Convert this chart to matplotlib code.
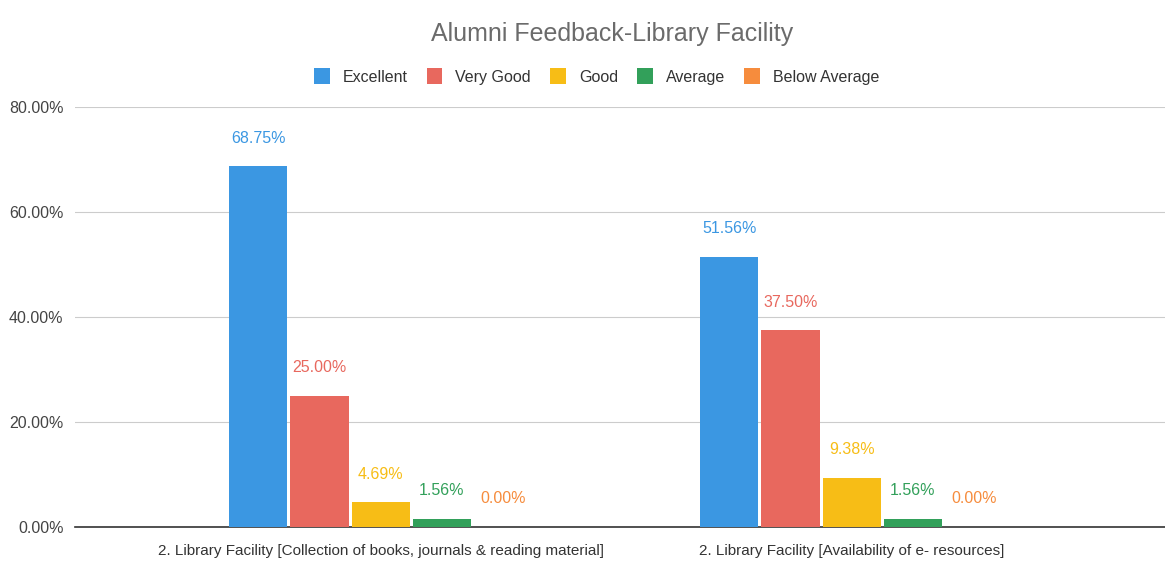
import numpy as np
import matplotlib
matplotlib.use("Agg")
import matplotlib.pyplot as plt
from matplotlib.ticker import PercentFormatter

plt.rcParams['font.family'] = ['Liberation Sans', 'DejaVu Sans']

categories = ["2. Library Facility [Collection of books, journals & reading material]",
              "2. Library Facility [Availability of e- resources]"]
series = ["Excellent", "Very Good", "Good", "Average", "Below Average"]
excellent = [68.75, 51.56]
very_good = [25.00, 37.50]
good = [4.69, 9.38]
average = [1.56, 1.56]
below_average = [0.00, 0.00]
values = [excellent, very_good, good, average, below_average]
colors = ["#3b97e2", "#e8685e", "#f7bd16", "#32a05a", "#f68c3d"]

fig = plt.figure(figsize=(11.65, 5.67), dpi=100)
ax = fig.add_axes([0.064, 0.0705, 0.936, 0.74])

x = np.arange(len(categories))
w = 0.13
for i, (name, vals, c) in enumerate(zip(series, values, colors)):
    pos = x + (i - 2) * w
    ax.bar(pos, vals, width=w - 0.006, color=c, label=name, zorder=3)
    for p, v in zip(pos, vals):
        ax.annotate(f"{v:.2f}%", (p, v), xytext=(0, 15), textcoords="offset points",
                    ha="center", va="bottom", color=c, fontsize=11.5)

ax.set_xlim(-0.65, 1.665)
ax.set_ylim(0, 80)
ax.set_yticks([0, 20, 40, 60, 80])
ax.yaxis.set_major_formatter(PercentFormatter(decimals=2))
ax.set_xticks(x)
ax.set_xticklabels(categories, fontsize=11, color="#333333")
ax.tick_params(axis="y", labelsize=11.5, colors="#444444", length=0, pad=8)
ax.tick_params(axis="x", length=0, pad=12)
ax.grid(axis="y", color="#cccccc", linewidth=0.8, zorder=0)
for s in ["top", "right", "left"]:
    ax.spines[s].set_visible(False)
ax.spines["bottom"].set_color("#333333")
ax.spines["bottom"].set_linewidth(1.2)

fig.text(0.525, 0.94, "Alumni Feedback-Library Facility", ha="center", va="center",
         fontsize=18, color="#6b6b6b")
leg = fig.legend(loc="center", bbox_to_anchor=(0.512, 0.865), ncol=5, frameon=False,
                 fontsize=11.5, handlelength=1.0, handleheight=1.15, columnspacing=1.2,
                 handletextpad=0.8)
for t in leg.get_texts():
    t.set_color("#333333")

fig.savefig("out.png", dpi=100)
